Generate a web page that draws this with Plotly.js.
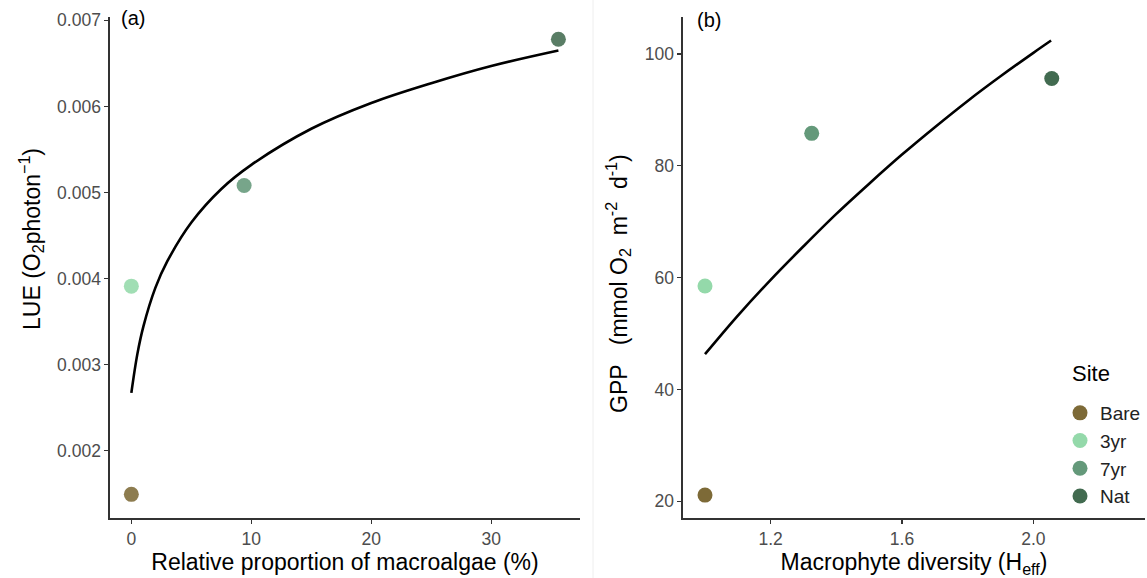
<!DOCTYPE html>
<html>
<head>
<meta charset="utf-8">
<script src="https://cdn.plot.ly/plotly-3.0.1.min.js"></script>
<style>html,body{margin:0;padding:0;background:#fff;}#chart{width:1147px;height:578px;}</style>
</head>
<body>
<div id="chart"></div>
<script>
// Sites and colours
const sites = ['Bare', '3yr', '7yr', 'Nat'];
const siteColors = ['#7d6a37', '#94d9aa', '#64997a', '#426b50'];

// Panel (a): LUE vs relative proportion of macroalgae
const macroalgae = [0, 0, 9.4, 35.6];
const lue = [0.00149, 0.00391, 0.00508, 0.00678];
// fitted curve
const fitA_x = [0, 0.5, 1, 2, 3, 5, 7.5, 10, 15, 20, 25, 30, 35.6];
const fitA_y = [0.00267, 0.00312, 0.00344, 0.00389, 0.00420, 0.00465, 0.00504, 0.00532, 0.00574, 0.00604, 0.00627, 0.00647, 0.00665];

// Panel (b): GPP vs macrophyte diversity
const heff = [1.0, 1.0, 1.325, 2.056];
const gpp = [21.1, 58.5, 85.8, 95.6];
const fitB_x = [1.0, 1.1, 1.2, 1.3, 1.4, 1.5, 1.6, 1.7, 1.8, 1.9, 2.0, 2.054];
const fitB_y = [46.3, 53.2, 59.6, 65.6, 71.4, 76.8, 82.0, 86.9, 91.6, 96.0, 100.2, 102.4];

// Tick labels
const ticksA_x = [0, 10, 20, 30];
const ticksA_y = [0.002, 0.003, 0.004, 0.005, 0.006, 0.007];
const ticksB_x = [1.2, 1.6, 2.0];
const ticksB_y = [20, 40, 60, 80, 100];

const W = 1147, H = 578;
const px = v => v / W;
const py = v => 1 - v / H;
const FAM = 'Liberation Sans, Arial, sans-serif';
const NB = '\u00a0';

const traces = [];
traces.push({x: fitA_x, y: fitA_y, xaxis: 'x', yaxis: 'y', mode: 'lines',
  line: {color: '#000', width: 2.6, shape: 'spline'}, showlegend: false, hoverinfo: 'skip'});
traces.push({x: fitB_x, y: fitB_y, xaxis: 'x2', yaxis: 'y2', mode: 'lines',
  line: {color: '#000', width: 2.6, shape: 'spline'}, showlegend: false, hoverinfo: 'skip'});
sites.forEach((s, i) => {
  traces.push({x: [macroalgae[i]], y: [lue[i]], xaxis: 'x', yaxis: 'y', mode: 'markers', name: s,
    legendgroup: s, showlegend: false, marker: {color: siteColors[i], size: 15, opacity: 0.88}});
  traces.push({x: [heff[i]], y: [gpp[i]], xaxis: 'x2', yaxis: 'y2', mode: 'markers', name: s,
    legendgroup: s, showlegend: true, marker: {color: siteColors[i], size: 15}});
});

const tickFont = {family: FAM, size: 17.5, color: '#4d4d4d'};
const titleFont = {family: FAM, size: 23, color: '#000'};
const axBase = {showline: true, linecolor: '#333', linewidth: 1.6, ticks: 'outside', ticklen: 4,
  tickcolor: '#333', tickwidth: 1.4, showgrid: false, zeroline: false, tickfont: tickFont};

const layout = {
  width: W, height: H,
  margin: {l: 0, r: 0, t: 0, b: 0},
  paper_bgcolor: '#fff', plot_bgcolor: '#fff',
  font: {family: FAM},
  xaxis: Object.assign({}, axBase, {domain: [px(110), px(580)], range: [-1.78, 37.4], anchor: 'y',
    tickvals: ticksA_x, ticktext: ticksA_x.map(String),
    title: {text: 'Relative proportion of macroalgae (%)', font: titleFont, standoff: 6}}),
  yaxis: Object.assign({}, axBase, {domain: [py(518), py(16.5)], range: [0.001215, 0.007045], anchor: 'x',
    tickvals: ticksA_y, ticktext: ticksA_y.map(v => v.toFixed(3))}),
  xaxis2: Object.assign({}, axBase, {domain: [px(683), px(1145)], range: [0.933, 2.34], anchor: 'y2',
    tickvals: ticksB_x, ticktext: ticksB_x.map(v => v.toFixed(1)),
    title: {text: 'Macrophyte diversity (H<sub>eff</sub>)', font: titleFont, standoff: 6}}),
  yaxis2: Object.assign({}, axBase, {domain: [py(518), py(16.5)], range: [17.0, 106.7], anchor: 'x2',
    tickvals: ticksB_y, ticktext: ticksB_y.map(String)}),
  showlegend: true,
  legend: {x: px(1060), y: py(394), xanchor: 'left', yanchor: 'top', bgcolor: 'rgba(0,0,0,0)',
    font: {family: FAM, size: 19, color: '#222'},
    tracegroupgap: 0, itemwidth: 30},
  annotations: [
    {text: 'LUE (O<sub>2</sub>photon<sup>\u22121</sup>)', xref: 'paper', yref: 'paper',
      x: px(31), y: py(239), xanchor: 'center', yanchor: 'middle', textangle: -90,
      showarrow: false, font: titleFont},
    {text: 'GPP' + NB.repeat(3) + '(mmol O<sub>2</sub>' + NB + ' m<sup>-2</sup>' + NB + ' d<sup>-1</sup>)',
      xref: 'paper', yref: 'paper', x: px(618), y: py(283), xanchor: 'center', yanchor: 'middle', textangle: -90,
      showarrow: false, font: titleFont},
    {text: 'Site', xref: 'paper', yref: 'paper', x: px(1070), y: py(373), xanchor: 'left', yanchor: 'middle',
      showarrow: false, font: {family: FAM, size: 22, color: '#000'}},
    {text: '(a)', xref: 'paper', yref: 'paper', x: px(119), y: py(18), xanchor: 'left', yanchor: 'middle',
      showarrow: false, font: {family: FAM, size: 20, color: '#000'}},
    {text: '(b)', xref: 'paper', yref: 'paper', x: px(695), y: py(20), xanchor: 'left', yanchor: 'middle',
      showarrow: false, font: {family: FAM, size: 20, color: '#000'}}
  ],
  shapes: [
    {type: 'line', xref: 'paper', yref: 'paper', x0: px(593), x1: px(593), y0: 0, y1: 1,
      line: {color: '#eeeeee', width: 1}}
  ]
};

Plotly.newPlot('chart', traces, layout, {displayModeBar: false, staticPlot: true});
</script>
</body>
</html>
